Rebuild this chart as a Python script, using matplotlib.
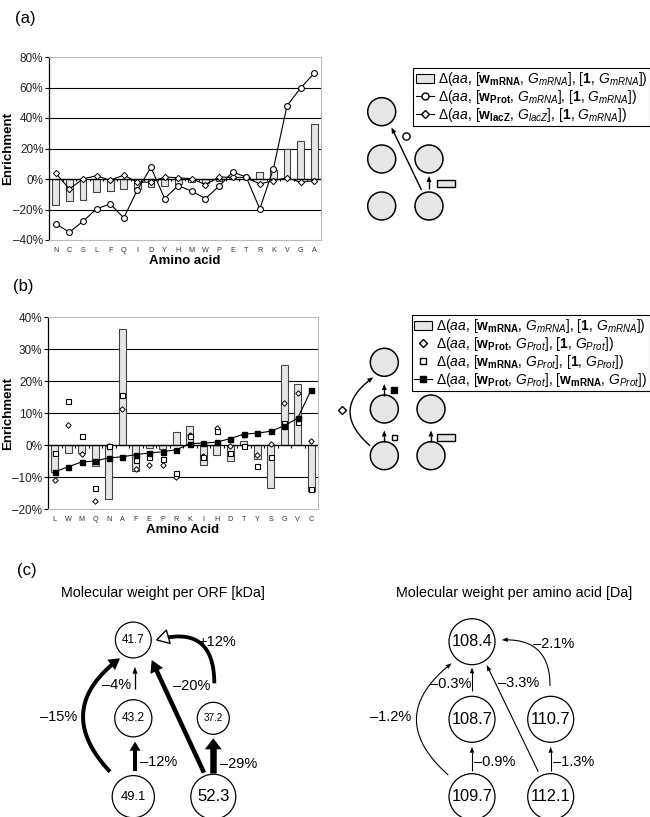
import matplotlib
matplotlib.use('Agg')
import matplotlib.pyplot as plt
import numpy as np
from matplotlib.patches import Circle, Rectangle, Polygon, Patch
from matplotlib.lines import Line2D

plt.rcParams['font.family'] = ['Liberation Sans', 'DejaVu Sans']
plt.rcParams['mathtext.fontset'] = 'custom'
plt.rcParams['mathtext.rm'] = 'Liberation Sans'
plt.rcParams['mathtext.it'] = 'Liberation Sans:italic'
plt.rcParams['mathtext.bf'] = 'Liberation Sans:bold'
plt.rcParams['mathtext.sf'] = 'Liberation Sans'

# ---------------- data ----------------
aa_a = ['N', 'C', 'S', 'L', 'F', 'Q', 'I', 'D', 'Y', 'H', 'M', 'W', 'P', 'E', 'T', 'R', 'K', 'V', 'G', 'A']
a_wmrna = [-17.1, -14.6, -13.7, -8.5, -8.0, -6.7, -6.3, -5.2, -4.6, -3.4, -2.2, -2.5, -1.6, 1.4, 1.0, 4.4, 6.2, 19.5, 25.0, 36.1]
a_wprot = [-29.4, -34.9, -27.7, -19.6, -16.3, -25.5, -7.1, 7.6, -12.8, -4.3, -8.0, -12.8, -4.8, 4.6, 1.3, -19.6, 6.7, 48.0, 59.6, 69.4]
a_lacz = [3.8, -6.5, 0.0, 2.2, -0.9, 2.6, -2.2, -2.0, 1.3, 0.8, 0.2, -3.7, 1.3, 1.1, 1.0, -3.3, -1.1, 0.9, -2.2, -1.1]

aa_b = ['L', 'W', 'M', 'Q', 'N', 'A', 'F', 'E', 'P', 'R', 'K', 'I', 'H', 'D', 'T', 'Y', 'S', 'G', 'V', 'C']
b_wmrna_gmrna = [-8.3, -2.5, -2.6, -6.7, -17.0, 36.1, -8.1, -1.0, -1.4, 4.2, 5.9, -6.4, -3.1, -5.1, 1.3, -4.4, -13.5, 24.9, 19.2, -14.4]
b_wprot_gprot = [-10.8, 6.1, -2.8, -17.5, -0.3, 11.3, -7.6, -6.3, -6.3, -9.9, 3.1, -3.3, 5.3, -0.4, 3.1, -3.1, 0.3, 13.2, 16.2, 1.4]
b_wmrna_gprot = [-2.6, 13.9, 2.7, -13.3, -0.2, 15.6, -4.7, -3.9, -4.4, -8.6, 2.7, -3.7, 4.3, -2.5, -0.4, -6.6, -3.9, 6.8, 7.1, -13.9]
b_wprot_wmrna = [-8.4, -6.8, -5.3, -5.0, -4.0, -3.7, -3.0, -2.5, -2.1, -1.5, 0.4, 0.6, 0.9, 2.0, 3.4, 3.7, 4.3, 6.0, 8.4, 17.3]

a_yticks = [-40, -20, 0, 20, 40, 60, 80]
b_yticks = [-20, -10, 0, 10, 20, 30, 40]

# panel (c)
orf_nodes = [41.7, 43.2, 37.2, 49.1, 52.3]
orf_edges = ['–15%', '–4%', '–12%', '–20%', '–29%', '+12%']
aa_nodes = [108.4, 108.7, 110.7, 109.7, 112.1]
aa_edges = ['–1.2%', '–0.3%', '–0.9%', '–3.3%', '–1.3%', '–2.1%']

W, H = 650, 817
fig = plt.figure(figsize=(W / 100, H / 100), dpi=100)

def px_axes(l, t, r, b):
    return fig.add_axes([l / W, 1 - b / H, (r - l) / W, (b - t) / H])

BAR_FC = '#e6e6e6'

def pct(v):
    return ('–%d%%' % -v) if v < 0 else ('%d%%' % v)

def style_axes(ax, cats, yticks, tick_len, lab_x):
    n = len(cats)
    ax.set_xlim(-0.5, n - 0.5)
    ax.set_ylim(yticks[0], yticks[-1])
    ax.set_yticks(yticks)
    ax.set_yticklabels([pct(v) for v in yticks], fontsize=8.5, color='#222222')
    ax.set_xticks(range(n))
    ax.set_xticklabels(cats, fontsize=5.2, color='#333333')
    ax.tick_params(axis='x', length=0, pad=5)
    ax.tick_params(axis='y', direction='out', length=3, width=0.8, pad=1)
    for s in ['top', 'right', 'bottom']:
        ax.spines[s].set_color('#bbbbbb')
        ax.spines[s].set_linewidth(0.8)
    ax.spines['left'].set_linewidth(0.9)
    for v in yticks[1:-1]:
        if v != 0:
            ax.axhline(v, color='black', lw=0.8, zorder=0.5)
    ax.axhline(0, color='black', lw=1.0, zorder=3)
    ax.vlines(np.arange(n + 1) - 0.5, 0, -tick_len, color='black', lw=0.8, zorder=3)
    ax.set_ylabel('Enrichment', fontsize=9.5, fontweight='bold')
    ax.yaxis.set_label_coords(lab_x, 0.5)

# ---------------- panel (a) ----------------
axa = px_axes(49, 57, 321, 240)
xa = np.arange(len(aa_a))
axa.bar(xa, a_wmrna, width=0.5, color=BAR_FC, edgecolor='#444444', lw=0.8, zorder=2)
axa.plot(xa, a_lacz, color='black', lw=0.8, marker='D', ms=3.2, mfc='white', mec='black', mew=0.7, zorder=4)
axa.plot(xa, a_wprot, color='black', lw=0.8, marker='o', ms=4.2, mfc='white', mec='black', mew=0.8, zorder=5)
style_axes(axa, aa_a, a_yticks, 1.6, (14 - 49) / 272)
axa.set_xlabel('Amino acid', fontsize=9.5, fontweight='bold', labelpad=1)

# ---------------- panel (b) ----------------
axb = px_axes(48, 317, 318, 509)
xb = np.arange(len(aa_b))
axb.bar(xb, b_wmrna_gmrna, width=0.5, color=BAR_FC, edgecolor='#444444', lw=0.8, zorder=2)
axb.plot(xb, b_wprot_gprot, ls='none', marker='D', ms=2.8, mfc='white', mec='black', mew=0.7, zorder=4)
axb.plot(xb, b_wmrna_gprot, ls='none', marker='s', ms=3.6, mfc='white', mec='black', mew=0.8, zorder=4)
axb.plot(xb, b_wprot_wmrna, color='black', lw=0.8, marker='s', ms=3.6, mfc='black', mec='black', zorder=5)
style_axes(axb, aa_b, b_yticks, 0.8, (14 - 48) / 270)
axb.set_xlabel('Amino Acid', fontsize=9.5, fontweight='bold', labelpad=1)

# ---------------- legends ----------------
L_mrna_mrna = r'$\Delta(\mathit{aa}$, [$\mathbf{w}_{\mathbf{mRNA}}$, $G_{mRNA}$], [$\mathbf{1}$, $G_{mRNA}$])'
L_prot_mrna = r'$\Delta(\mathit{aa}$, [$\mathbf{w}_{\mathbf{Prot}}$, $G_{mRNA}$], [$\mathbf{1}$, $G_{mRNA}$])'
L_lacz = r'$\Delta(\mathit{aa}$, [$\mathbf{w}_{\mathbf{lacZ}}$, $G_{lacZ}$], [$\mathbf{1}$, $G_{mRNA}$])'
L_prot_prot = r'$\Delta(\mathit{aa}$, [$\mathbf{w}_{\mathbf{Prot}}$, $G_{Prot}$], [$\mathbf{1}$, $G_{Prot}$])'
L_mrna_prot = r'$\Delta(\mathit{aa}$, [$\mathbf{w}_{\mathbf{mRNA}}$, $G_{Prot}$], [$\mathbf{1}$, $G_{Prot}$])'
L_pp_mp = r'$\Delta(\mathit{aa}$, [$\mathbf{w}_{\mathbf{Prot}}$, $G_{Prot}$], [$\mathbf{w}_{\mathbf{mRNA}}$, $G_{Prot}$])'

h_bar = Patch(facecolor=BAR_FC, edgecolor='black', lw=0.8)
h_circ = Line2D([], [], color='black', lw=0.8, marker='o', ms=5, mfc='white', mec='black')
h_dia = Line2D([], [], color='black', lw=0.8, marker='D', ms=4, mfc='white', mec='black')
h_dia2 = Line2D([], [], ls='none', marker='D', ms=4, mfc='white', mec='black')
h_sq = Line2D([], [], ls='none', marker='s', ms=5, mfc='white', mec='black')
h_blk = Line2D([], [], color='black', lw=0.8, marker='s', ms=5, mfc='black', mec='black')

for handles, labels, top in [([h_bar, h_circ, h_dia], [L_mrna_mrna, L_prot_mrna, L_lacz], 68),
                             ([h_bar, h_dia2, h_sq, h_blk], [L_mrna_mrna, L_prot_prot, L_mrna_prot, L_pp_mp], 315)]:
    lg = fig.legend(handles, labels, loc='upper right', bbox_to_anchor=(649.5 / W, 1 - top / H),
                    fontsize=10, frameon=True, fancybox=False, framealpha=1, edgecolor='black',
                    borderpad=0.15, labelspacing=0.0, handlelength=1.3, handletextpad=0.3,
                    borderaxespad=0, handleheight=0.6)
    lg.get_frame().set_linewidth(0.8)

# ---------------- overlay for diagrams ----------------
ov = fig.add_axes([0, 0, 1, 1], zorder=-1)
ov.set_xlim(0, W)
ov.set_ylim(H, 0)
ov.axis('off')

def circ(x, y, r, fc=BAR_FC, lw=1.1):
    ov.add_patch(Circle((x, y), r, facecolor=fc, edgecolor='black', lw=lw))

def arrow(p0, p2, bend=0.0, lw=1.2, hl=6, hw=5, open_head=False):
    p0 = np.array(p0, float); p2 = np.array(p2, float)
    d = p2 - p0
    mid = (p0 + p2) / 2
    c = mid + bend * np.array([d[1], -d[0]])
    t = np.linspace(0, 1, 80)[:, None]
    pts = (1 - t) ** 2 * p0 + 2 * (1 - t) * t * c + t ** 2 * p2
    tang = p2 - c
    if np.hypot(*tang) < 1e-6:
        tang = d
    tang = tang / np.hypot(*tang)
    base = p2 - tang * hl
    dist = np.hypot(*(pts - p2).T)
    keep = pts[dist >= hl * 0.85]
    keep = np.vstack([keep, p2 - tang * hl * 0.85])
    ov.plot(keep[:, 0], keep[:, 1], color='black', lw=lw * 0.72, solid_capstyle='butt')
    nrm = np.array([-tang[1], tang[0]])
    poly = np.array([p2, base + nrm * hw / 2, base - nrm * hw / 2])
    if open_head:
        ov.add_patch(Polygon(poly, closed=True, facecolor='white', edgecolor='black', lw=1.0, zorder=5))
    else:
        ov.add_patch(Polygon(poly, closed=True, facecolor='black', edgecolor='none', zorder=5))

# diagram (a)
xL, xR = 381.7, 429
yT, yM, yB = 111.7, 159, 206
for (x, y) in [(xL, yT), (xL, yM), (xR, yM), (xL, yB), (xR, yB)]:
    circ(x, y, 14)
arrow((421.5, 190), (391.5, 127.5), lw=1.4, hl=6, hw=5)
arrow((xR, 189), (xR, 176), lw=1.4, hl=6, hw=5)
ov.plot([406], [136], marker='o', ms=5.2, mfc='white', mec='black', mew=1.0)
ov.add_patch(Rectangle((437, 180), 18, 7.3, facecolor=BAR_FC, edgecolor='black', lw=1.0))

# diagram (b)
xL, xR = 384.3, 431
yT, yM, yB = 362.3, 409, 455.7
for (x, y) in [(xL, yT), (xL, yM), (xR, yM), (xL, yB), (xR, yB)]:
    circ(x, y, 14)
arrow((xL, 442), (xL, 430.5), lw=1.4, hl=6, hw=5)
arrow((xL, 395.5), (xL, 384), lw=1.4, hl=6, hw=5)
arrow((xR, 442), (xR, 430.5), lw=1.4, hl=6, hw=5)
arrow((370, 445.7), (373.3, 377.3), bend=0.63, lw=1.4, hl=6, hw=5)
ov.plot([394], [436.7], marker='s', ms=3.6, mfc='white', mec='black', mew=1.0)
ov.plot([394], [390], marker='s', ms=4.0, mfc='black', mec='black', mew=1.0)
ov.plot([341.7], [410], marker='D', ms=3.6, mfc='white', mec='black', mew=1.0)
ov.add_patch(Rectangle((437.3, 434), 17.7, 6.7, facecolor=BAR_FC, edgecolor='black', lw=1.0))

# panel labels
for lab, (x, y) in [('(a)', (25, 18)), ('(b)', (23, 287)), ('(c)', (26.5, 570))]:
    ov.text(x, y, lab, fontsize=12, ha='center', va='center')

# ---------------- panel (c) left ----------------
ov.text(162.5, 593.3, 'Molecular weight per ORF [kDa]', fontsize=10.3, ha='center', va='center')
cx1, cx2 = 133.3, 213.3
ry = [640, 718.3, 796.7]
pos_orf = [(cx1, ry[0]), (cx1, ry[1]), (cx2, ry[1]), (cx1, ry[2]), (cx2, ry[2])]
orf_font = [8.4, 8.6, 7.1, 9.4, 12.0]
for v, (x, y), fsz in zip(orf_nodes, pos_orf, orf_font):
    r = 0.43 * v
    circ(x, y, r, fc='white', lw=0.9)
    ov.text(x, y, '%.1f' % v, fontsize=fsz, ha='center', va='center')

arrow((110, 771.7), (120, 658.3), bend=0.56, lw=4.0, hl=11, hw=13)          # 49.1 -> 41.7
arrow((135, 688.5), (135, 666.7), lw=1.3, hl=7, hw=5)                       # 43.2 -> 41.7
arrow((135, 771), (135, 741.7), lw=4.0, hl=9, hw=11)                        # 49.1 -> 43.2
arrow((204, 772.7), (151.7, 660), lw=4.5, hl=12, hw=14)                     # 52.3 -> 41.7
arrow((213.3, 773), (213.3, 738.3), lw=6.5, hl=11, hw=17)                   # 52.3 -> 37.2
arrow((214.3, 683.3), (156.7, 640), bend=-0.66, lw=3.8, hl=12, hw=14, open_head=True)  # 37.2 -> 41.7

fs_c = 10.5
ov.text(58.3, 716.7, orf_edges[0], fontsize=fs_c, ha='center', va='center')
ov.text(131.5, 685, orf_edges[1], fontsize=fs_c, ha='right', va='center')
ov.text(140, 761.7, orf_edges[2], fontsize=fs_c, ha='left', va='center')
ov.text(172.7, 686, orf_edges[3], fontsize=fs_c, ha='left', va='center')
ov.text(220.5, 764, orf_edges[4], fontsize=fs_c, ha='left', va='center')
ov.text(198, 641.7, orf_edges[5], fontsize=fs_c, ha='left', va='center')

# ---------------- panel (c) right ----------------
ov.text(514.2, 593.3, 'Molecular weight per amino acid [Da]', fontsize=10.3, ha='center', va='center')
dx1, dx2 = 472, 550.7
pos_aa = [(dx1, 641.7), (dx1, 719.3), (dx2, 719.3), (dx1, 796.7), (dx2, 796.7)]
for v, (x, y) in zip(aa_nodes, pos_aa):
    circ(x, y, 23, fc='white', lw=0.9)
    ov.text(x, y, '%.1f' % v, fontsize=11.8, ha='center', va='center')

arrow((448.3, 775), (451.7, 663.3), bend=0.6, lw=1.1, hl=6, hw=4.5)         # 109.7 -> 108.4
arrow((dx1, 691), (dx1, 667.3), lw=1.1, hl=6, hw=4.5)                       # 108.7 -> 108.4
arrow((dx1, 770.5), (dx1, 746.7), lw=1.1, hl=6, hw=4.5)                     # 109.7 -> 108.7
arrow((538.3, 771.7), (486.7, 665), lw=1.1, hl=6, hw=4.5)                   # 112.1 -> 108.4
arrow((dx2, 770.5), (dx2, 746.7), lw=1.1, hl=6, hw=4.5)                     # 112.1 -> 110.7
arrow((550, 686), (501.7, 640), bend=-0.53, lw=1.1, hl=6, hw=4.5)           # 110.7 -> 108.4

ov.text(390.5, 717.3, aa_edges[0], fontsize=fs_c, ha='center', va='center')
ov.text(471, 684, aa_edges[1], fontsize=fs_c, ha='right', va='center')
ov.text(474, 762.3, aa_edges[2], fontsize=fs_c, ha='left', va='center')
ov.text(498.3, 683.3, aa_edges[3], fontsize=fs_c, ha='left', va='center')
ov.text(552.7, 762.3, aa_edges[4], fontsize=fs_c, ha='left', va='center')
ov.text(533.3, 644, aa_edges[5], fontsize=fs_c, ha='left', va='center')

fig.savefig('out.png', dpi=100)
